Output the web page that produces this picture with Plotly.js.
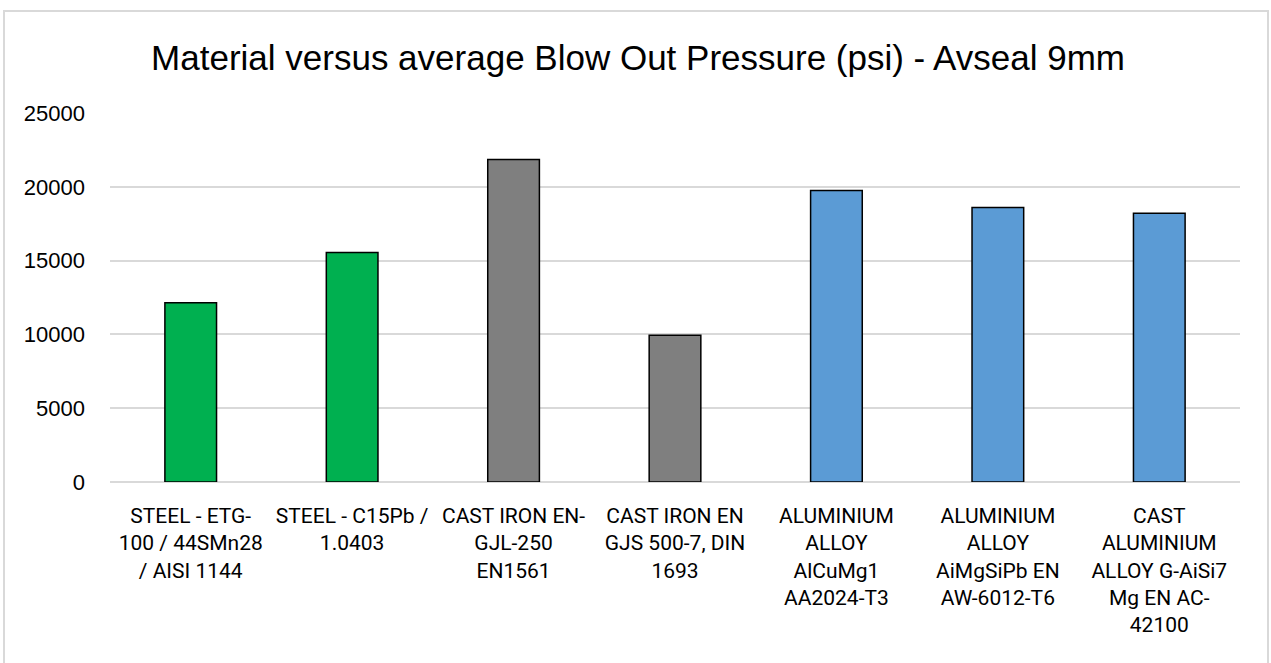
<!DOCTYPE html>
<html>
<head>
<meta charset="utf-8">
<script src="https://cdn.plot.ly/plotly-3.0.1.min.js"></script>
<style>
html,body{margin:0;padding:0;background:#fff;}
#wrap{position:relative;width:1271px;height:663px;}
#frame{position:absolute;left:3px;top:10px;width:1266px;height:660px;border:2px solid #D9D9D9;box-sizing:border-box;pointer-events:none;}
#chart{position:absolute;left:0;top:0;width:1271px;height:663px;}
</style>
</head>
<body>
<div id="wrap">
<div id="chart"></div>
<div id="frame"></div>
</div>
<script>
const categories = [
  "STEEL - ETG-<br>100 / 44SMn28<br>/ AISI 1144",
  "STEEL - C15Pb /<br>1.0403",
  "CAST IRON EN-<br>GJL-250<br>EN1561",
  "CAST IRON EN<br>GJS 500-7, DIN<br>1693",
  "ALUMINIUM<br>ALLOY<br>AlCuMg1<br>AA2024-T3",
  "ALUMINIUM<br>ALLOY<br>AiMgSiPb EN<br>AW-6012-T6",
  "CAST<br>ALUMINIUM<br>ALLOY G-AiSi7<br>Mg EN AC-<br>42100"
];
const pressure = [12150, 15550, 21850, 9950, 19750, 18600, 18200];
const barColors = ["#00B050", "#00B050", "#7F7F7F", "#7F7F7F", "#5B9BD5", "#5B9BD5", "#5B9BD5"];
const yTicks = [0, 5000, 10000, 15000, 20000, 25000];

const font = "Liberation Sans, Arial, sans-serif";
const xfont = "Roboto, Liberation Sans, sans-serif";

Plotly.newPlot("chart", [{
  type: "bar",
  x: categories,
  y: pressure,
  width: 0.32,
  marker: {color: barColors, line: {color: "#000000", width: 1.5}},
  hoverinfo: "x+y"
}], {
  width: 1271,
  height: 663,
  margin: {l: 110, r: 31, t: 113, b: 181},
  paper_bgcolor: "rgba(0,0,0,0)",
  plot_bgcolor: "#ffffff",
  title: {
    text: "Material versus average Blow Out Pressure (psi) - Avseal 9mm",
    font: {family: font, size: 35, color: "#000000"},
    x: 0.502, xanchor: "center",
    y: 0.913, yanchor: "middle"
  },
  xaxis: {
    type: "category",
    showgrid: false,
    showline: false,
    ticks: "",
    tickangle: 0,
    ticklabelstandoff: 19,
    tickfont: {family: xfont, size: 21, color: "#000000"}
  },
  yaxis: {
    range: [0, 25000],
    tickvals: yTicks,
    ticktext: yTicks.map(String),
    showgrid: true,
    gridcolor: "#D9D9D9",
    gridwidth: 1.5,
    zeroline: true,
    zerolinecolor: "#D9D9D9",
    zerolinewidth: 1.5,
    showline: false,
    ticks: "",
    ticklabelstandoff: 24,
    tickfont: {family: font, size: 22, color: "#000000"}
  },
  showlegend: false
}, {displayModeBar: false});
</script>
</body>
</html>
